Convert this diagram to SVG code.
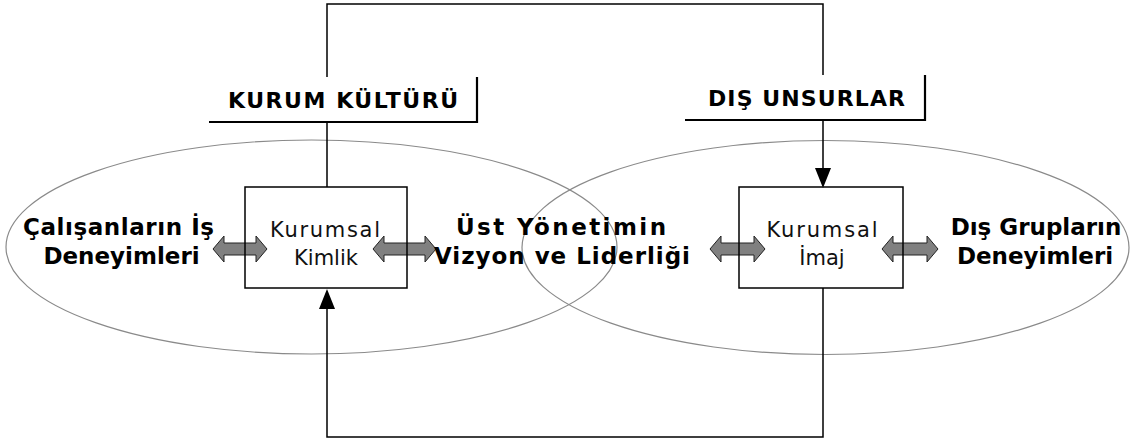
<svg xmlns="http://www.w3.org/2000/svg" width="1132" height="443" viewBox="0 0 1132 443">
<style>
.ell{fill:none;stroke:#8a8a8a;stroke-width:1.2}
.line{fill:none;stroke:#000;stroke-width:1.5}
.dbl{fill:#808080;stroke:#222;stroke-width:1}
.box{fill:none;stroke:#000;stroke-width:1.5}
.lbl{fill:#fff;stroke:none}
.lbledge{fill:none;stroke:#000;stroke-width:2.2}
.bold{font-family:"DejaVu Sans","Liberation Sans",sans-serif;font-weight:bold;font-size:23px;fill:#000}
.head{font-family:"DejaVu Sans","Liberation Sans",sans-serif;font-weight:bold;font-size:22px;fill:#000}
.reg{font-family:"DejaVu Sans","Liberation Sans",sans-serif;font-size:21px;fill:#111}
</style>
<rect width="1132" height="443" fill="#fff"/>
<g id="ellipses">
<ellipse class="ell" cx="311.5" cy="247" rx="305.5" ry="107"/>
<ellipse class="ell" cx="825.5" cy="247.5" rx="303.5" ry="107"/>
</g>
<g id="connectors">
<path class="line" d="M327,187 L327,4 L823,4 L823,170"/>
<polygon points="815,168 831,168 823,188" fill="#000"/>
<path class="line" d="M823,288 L823,437 L327,437 L327,307"/>
<polygon points="319,309 335,309 327,289" fill="#000"/>
<path class="dbl" d="M213,249 L224,236 L224,243 L256,243 L256,236 L267,249 L256,262 L256,255 L224,255 L224,262 Z"/>
<path class="dbl" d="M373,249 L384,236 L384,243 L425,243 L425,236 L436,249 L425,262 L425,255 L384,255 L384,262 Z"/>
<path class="dbl" d="M710,249 L721,236 L721,243 L754,243 L754,236 L765,249 L754,262 L754,255 L721,255 L721,262 Z"/>
<path class="dbl" d="M882,249 L893,236 L893,243 L927,243 L927,236 L938,249 L927,262 L927,255 L893,255 L893,262 Z"/>
</g>
<g id="kurum-kulturu">
<rect class="lbl" x="209" y="77" width="268" height="45"/>
<polyline class="lbledge" points="209,122 477,122 477,77"/>
<text class="head" x="343" y="108" text-anchor="middle" textLength="230" lengthAdjust="spacing">KURUM KÜLTÜRÜ</text>
</g>
<g id="dis-unsurlar">
<rect class="lbl" x="685" y="75" width="240" height="45"/>
<polyline class="lbledge" points="685,120 925,120 925,75"/>
<text class="head" x="806.5" y="106" text-anchor="middle" textLength="197" lengthAdjust="spacing">DIŞ UNSURLAR</text>
</g>
<g id="kurumsal-kimlik">
<rect class="box" x="245" y="187" width="162" height="101"/>
<text class="reg" x="325" y="237" text-anchor="middle" textLength="110" lengthAdjust="spacing">Kurumsal</text>
<text class="reg" x="326" y="265" text-anchor="middle">Kimlik</text>
</g>
<g id="kurumsal-imaj">
<rect class="box" x="739" y="187" width="164" height="101"/>
<text class="reg" x="822" y="237" text-anchor="middle" textLength="111" lengthAdjust="spacing">Kurumsal</text>
<text class="reg" x="822" y="265" text-anchor="middle">İmaj</text>
</g>
<g id="calisanlar">
<text class="bold" x="118.5" y="235" text-anchor="middle" textLength="191" lengthAdjust="spacing">Çalışanların İş</text>
<text class="bold" x="121.5" y="264" text-anchor="middle">Deneyimleri</text>
</g>
<g id="ust-yonetim">
<text class="bold" x="561" y="235" text-anchor="middle" textLength="210" lengthAdjust="spacing">Üst Yönetimin</text>
<text class="bold" x="562" y="264" text-anchor="middle" textLength="256" lengthAdjust="spacing">Vizyon ve Liderliği</text>
</g>
<g id="dis-gruplar">
<text class="bold" x="1036" y="235" text-anchor="middle">Dış Grupların</text>
<text class="bold" x="1035" y="264" text-anchor="middle">Deneyimleri</text>
</g>
</svg>
